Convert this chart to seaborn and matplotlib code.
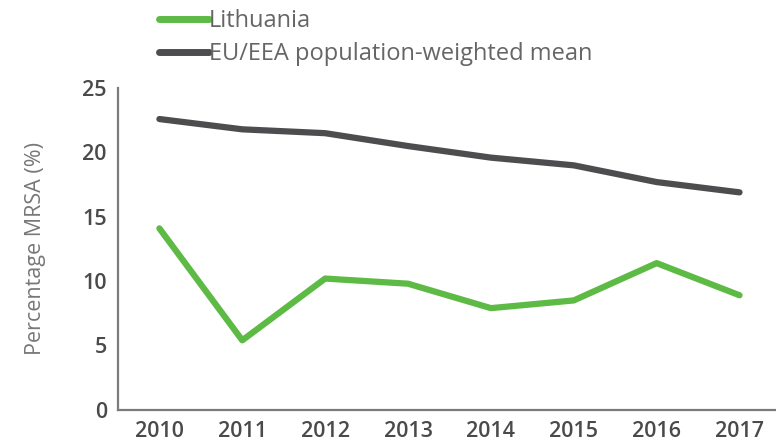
import pandas as pd
import matplotlib.pyplot as plt
import seaborn as sns
from matplotlib.ticker import FixedLocator

# data
years = [2010, 2011, 2012, 2013, 2014, 2015, 2016, 2017]
lithuania = [14.1, 5.4, 10.2, 9.8, 7.9, 8.5, 11.4, 8.9]
eu_mean = [22.6, 21.8, 21.5, 20.5, 19.6, 19.0, 17.7, 16.9]
series_names = ['Lithuania', 'EU/EEA population-weighted mean']
colors = ['#5dba45', '#4d4d4f']

df = pd.DataFrame({
    'year': years * 2,
    'value': lithuania + eu_mean,
    'series': [series_names[0]] * len(years) + [series_names[1]] * len(years),
})

sns.set_style('white')
plt.rcParams['font.family'] = ['Open Sans', 'DejaVu Sans']

fig = plt.figure(figsize=(7.76, 4.43), dpi=100)
ax = fig.add_axes([0.152, 0.075, 0.848, 0.726])

sns.lineplot(data=df, x='year', y='value', hue='series', palette=colors,
             linewidth=4.5, ax=ax, legend=False)

ax.set_xlim(2009.5, 2017.44)
ax.set_ylim(0, 25)

spine_col = '#7b7b7b'
for side in ['top', 'right']:
    ax.spines[side].set_visible(False)
for side in ['left', 'bottom']:
    ax.spines[side].set_color(spine_col)
    ax.spines[side].set_linewidth(1.6)

ax.set_xticks(years)
ax.set_xticklabels([str(y) for y in years], fontweight='semibold')
ax.xaxis.set_minor_locator(FixedLocator([y + 0.5 for y in years[:-1]]))
ax.tick_params(axis='x', which='major', length=0, pad=8, labelsize=15.5, labelcolor='#4a4a4a')
ax.tick_params(axis='x', which='minor', direction='in', length=6, width=1.4, color=spine_col)
ax.set_yticks([0, 5, 10, 15, 20, 25])
ax.set_yticklabels([str(v) for v in [0, 5, 10, 15, 20, 25]], fontweight='semibold')
ax.tick_params(axis='y', direction='in', length=12, width=1.6, color=spine_col,
               pad=8, labelsize=15.5, labelcolor='#4a4a4a')

ax.set_xlabel('')
ax.set_ylabel('Percentage MRSA (%)', fontsize=15.5, color='#777777', labelpad=26)

# legend at top
handles = [plt.Line2D([], [], color=c, linewidth=5) for c in colors]
fig.legend(handles, series_names, loc='upper left', bbox_to_anchor=(0.184, 1.017),
           frameon=False, fontsize=17, handlelength=2.1, handletextpad=0.0,
           labelspacing=0.38, borderpad=0.2, labelcolor='#666666')

fig.savefig('out.png', dpi=100)
